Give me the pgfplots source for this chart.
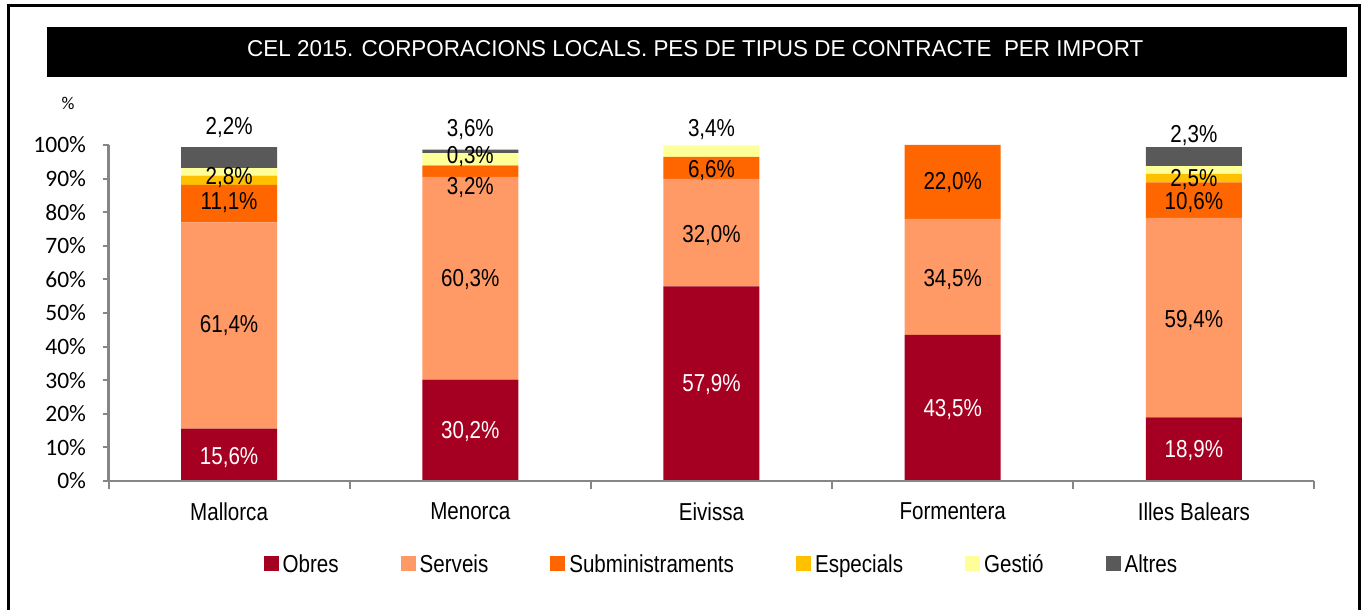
\documentclass[border=0pt]{standalone}
\usepackage{fontspec}
\setmainfont{Liberation Sans}[FakeStretch=0.84]
\newfontfamily\tickfont{Carlito}
\usepackage{pgfplots}
\pgfplotsset{compat=1.18}
\definecolor{obres}{RGB}{165,0,33}
\definecolor{serveis}{RGB}{255,153,102}
\definecolor{subm}{RGB}{255,102,0}
\definecolor{espec}{RGB}{255,192,0}
\definecolor{gestio}{RGB}{255,255,153}
\definecolor{altres}{RGB}{89,89,89}
\definecolor{axgray}{RGB}{134,134,134}
\newcommand\lbl{\fontsize{24.5}{27}\selectfont}
\begin{document}
\begin{tikzpicture}[x=1pt,y=1pt]
\draw[line width=2.5pt] (8.5,-20) -- (8.5,604.5) -- (1359.5,604.5) -- (1359.5,-20);
\fill[black] (46.7,532.7) rectangle (1346.7,583.3);
\node[white, anchor=west, inner sep=0pt] at (247,561.3) {\resizebox{896pt}{16pt}{CEL 2015. CORPORACIONS LOCALS. PES DE TIPUS DE CONTRACTE\ \ PER IMPORT}};
\node[font=\tickfont\fontsize{18}{20}\selectfont] at (68,507) {\%};
\begin{axis}[
  at={(108.5pt,129pt)}, anchor=south west,
  scale only axis, width=1206pt, height=336pt,
  xmin=-0.5, xmax=4.5, ymin=0, ymax=100,
  ybar stacked, bar width=96pt,
  axis x line=bottom, axis y line=left,
  axis line style={axgray, line width=2.5pt, -},
  axis on top,
  xtick={0,1,2,3,4},
  xticklabels={Mallorca,Menorca,Eivissa,Formentera,Illes Balears},
  minor xtick={-0.5,0.5,1.5,2.5,3.5,4.5},
  ytick={0,10,...,100},
  yticklabel={\pgfmathprintnumber{\tick}\%},
  tick align=outside, major tick length=6pt, minor tick length=8pt,
  tick style={axgray, line width=2pt},
  major x tick style={draw=none},
  /pgf/number format/assume math mode=true,
  yticklabel style={font=\tickfont\fontsize{23.5}{26}\selectfont, black, xshift=-13pt},
  xticklabel style={font=\lbl, black, yshift=-12pt},
  clip=false,
  legend style={at={(0.1285,-0.247)}, anchor=west, draw=none, fill=none,
    inner sep=0pt, legend columns=-1, font=\lbl,
    nodes={inner sep=0pt},
    /tikz/every odd column/.append style={column sep=4pt},
    /tikz/every even column/.append style={column sep=62pt}},
  legend image code/.code={\fill[#1] (0pt,-7.5pt) rectangle (15pt,7.5pt);},
  after end axis/.code={
    \node[font=\lbl, white] at (axis cs:0,7.1) {15,6\%};
    \node[font=\lbl] at (axis cs:0,46.4) {61,4\%};
    \node[font=\lbl] at (axis cs:0,83.0) {11,1\%};
    \node[font=\lbl] at (axis cs:0,90.2) {2,8\%};
    \node[font=\lbl] at (axis cs:0,105.1) {2,2\%};
    \node[font=\lbl, white] at (axis cs:1,14.6) {30,2\%};
    \node[font=\lbl] at (axis cs:1,60.1) {60,3\%};
    \node[font=\lbl] at (axis cs:1,87.2) {3,2\%};
    \node[font=\lbl] at (axis cs:1,96.7) {0,3\%};
    \node[font=\lbl] at (axis cs:1,104.5) {3,6\%};
    \node[font=\lbl, white] at (axis cs:2,28.6) {57,9\%};
    \node[font=\lbl] at (axis cs:2,73.2) {32,0\%};
    \node[font=\lbl] at (axis cs:2,92.3) {6,6\%};
    \node[font=\lbl] at (axis cs:2,104.5) {3,4\%};
    \node[font=\lbl, white] at (axis cs:3,21.4) {43,5\%};
    \node[font=\lbl] at (axis cs:3,60.1) {34,5\%};
    \node[font=\lbl] at (axis cs:3,88.7) {22,0\%};
    \node[font=\lbl, white] at (axis cs:4,9.2) {18,9\%};
    \node[font=\lbl] at (axis cs:4,47.9) {59,4\%};
    \node[font=\lbl] at (axis cs:4,83.0) {10,6\%};
    \node[font=\lbl] at (axis cs:4,89.6) {2,5\%};
    \node[font=\lbl] at (axis cs:4,102.7) {2,3\%};
  },
]
\addplot[fill=obres, draw=none] coordinates {(0,15.6) (1,30.2) (2,57.9) (3,43.5) (4,18.9)};
\addplot[fill=serveis, draw=none] coordinates {(0,61.4) (1,60.3) (2,32.0) (3,34.5) (4,59.4)};
\addplot[fill=subm, draw=none] coordinates {(0,11.1) (1,3.2) (2,6.6) (3,22.0) (4,10.6)};
\addplot[fill=espec, draw=none] coordinates {(0,2.8) (1,0.3) (2,0) (3,0) (4,2.5)};
\addplot[fill=gestio, draw=none] coordinates {(0,2.2) (1,3.6) (2,3.4) (3,0) (4,2.3)};
\addplot[fill=altres, draw=none] coordinates {(0,6.3) (1,1.0) (2,0) (3,0) (4,5.7)};
\legend{Obres,Serveis,Subministraments,Especials,Gestió,Altres}
\end{axis}
\pgfresetboundingbox
\path[use as bounding box] (0,0) rectangle (1365,610);
\end{tikzpicture}
\end{document}
